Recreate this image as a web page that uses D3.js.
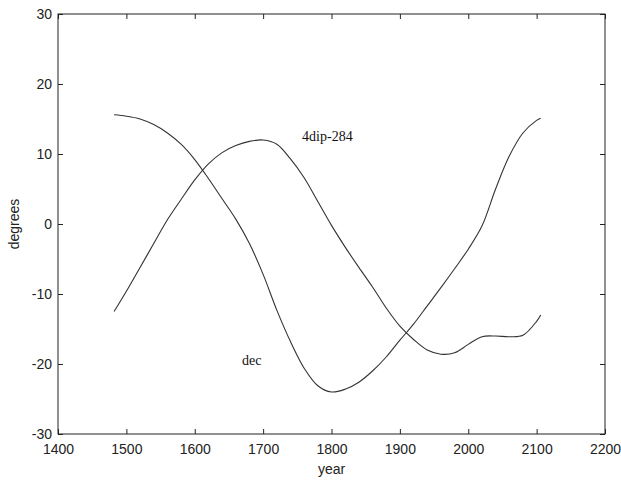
<!DOCTYPE html>
<html>
<head>
<meta charset="utf-8">
<script src="https://cdn.jsdelivr.net/npm/d3@7"></script>
<style>
  html, body { margin: 0; padding: 0; background: #fff; }
  svg { display: block; }
</style>
</head>
<body>
<svg id="chart" width="621" height="483"></svg>
<script>
const years = [1482,1500,1520,1540,1560,1580,1600,1620,1640,1660,1680,1700,1720,1740,1760,1780,1800,1820,1840,1860,1880,1900,1920,1940,1960,1980,2000,2020,2040,2060,2080,2100,2106];
const decValues = [15.6,15.4,15.0,14.2,13.0,11.4,9.2,6.5,3.6,0.7,-2.8,-7.2,-12.3,-16.8,-20.6,-23.1,-24.0,-23.6,-22.6,-21.0,-19.0,-16.6,-14.3,-11.7,-9.1,-6.4,-3.6,-0.3,5.0,9.7,13.0,14.8,15.1];
const dipValues = [-12.5,-9.6,-6.2,-2.8,0.6,3.5,6.3,8.6,10.2,11.2,11.8,12.0,11.4,9.3,6.6,3.2,-0.2,-3.3,-6.2,-9.0,-12.0,-14.6,-16.5,-18.0,-18.6,-18.4,-17.2,-16.1,-16.0,-16.1,-15.9,-13.9,-13.0];
const xTicks = [1400,1500,1600,1700,1800,1900,2000,2100,2200];
const yTicks = [-30,-20,-10,0,10,20,30];
const labels = [
  {text: "4dip-284", year: 1757, value: 11.9},
  {text: "dec", year: 1669, value: -20.1}
];

const svg = d3.select("#chart");
const L = 58, R = 605, T = 14, B = 434;
const x = d3.scaleLinear().domain([1400, 2200]).range([L, R]);
const y = d3.scaleLinear().domain([-30, 30]).range([B, T]);

const axisColor = "#222";
const tickFont = "'Liberation Sans', Arial, sans-serif";
const fmt = d => String(d);

svg.append("rect").attr("x", L).attr("y", T).attr("width", R - L).attr("height", B - T)
  .attr("fill", "none").attr("stroke", axisColor).attr("stroke-width", 1);

function styleAxis(g, showText) {
  g.select(".domain").remove();
  g.selectAll(".tick line").attr("stroke", axisColor);
  g.selectAll(".tick text").attr("fill", axisColor)
    .style("font-family", tickFont).style("font-size", "14px");
  if (!showText) g.selectAll(".tick text").remove();
}

const xAxisB = d3.axisBottom(x).tickValues(xTicks).tickSizeInner(-5).tickSizeOuter(0).tickPadding(10).tickFormat(fmt);
svg.append("g").attr("transform", `translate(0,${B})`).call(xAxisB).call(g => styleAxis(g, true));
const xAxisT = d3.axisTop(x).tickValues(xTicks).tickSizeInner(-5).tickSizeOuter(0);
svg.append("g").attr("transform", `translate(0,${T})`).call(xAxisT).call(g => styleAxis(g, false));
const yAxisL = d3.axisLeft(y).tickValues(yTicks).tickSizeInner(-5).tickSizeOuter(0).tickPadding(6).tickFormat(fmt);
svg.append("g").attr("transform", `translate(${L},0)`).call(yAxisL).call(g => styleAxis(g, true));
const yAxisR = d3.axisRight(y).tickValues(yTicks).tickSizeInner(-5).tickSizeOuter(0);
svg.append("g").attr("transform", `translate(${R},0)`).call(yAxisR).call(g => styleAxis(g, false));

const line = d3.line().x((d, i) => x(years[i])).y(d => y(d)).curve(d3.curveCatmullRom.alpha(0.5));
[decValues, dipValues].forEach(vals => {
  svg.append("path").datum(vals).attr("d", line)
    .attr("fill", "none").attr("stroke", "#333").attr("stroke-width", 1.1);
});

labels.forEach(l => {
  svg.append("text").attr("x", x(l.year)).attr("y", y(l.value))
    .style("font-family", "'Liberation Serif', 'Times New Roman', serif")
    .style("font-size", "14px").attr("fill", "#111").text(l.text);
});

svg.append("text").attr("x", (L + R) / 2).attr("y", 474).attr("text-anchor", "middle")
  .style("font-family", tickFont).style("font-size", "14px").attr("fill", axisColor).text("year");
svg.append("text").attr("transform", `translate(19,${(T + B) / 2}) rotate(-90)`).attr("text-anchor", "middle")
  .style("font-family", tickFont).style("font-size", "14px").attr("fill", axisColor).text("degrees");
</script>
</body>
</html>
